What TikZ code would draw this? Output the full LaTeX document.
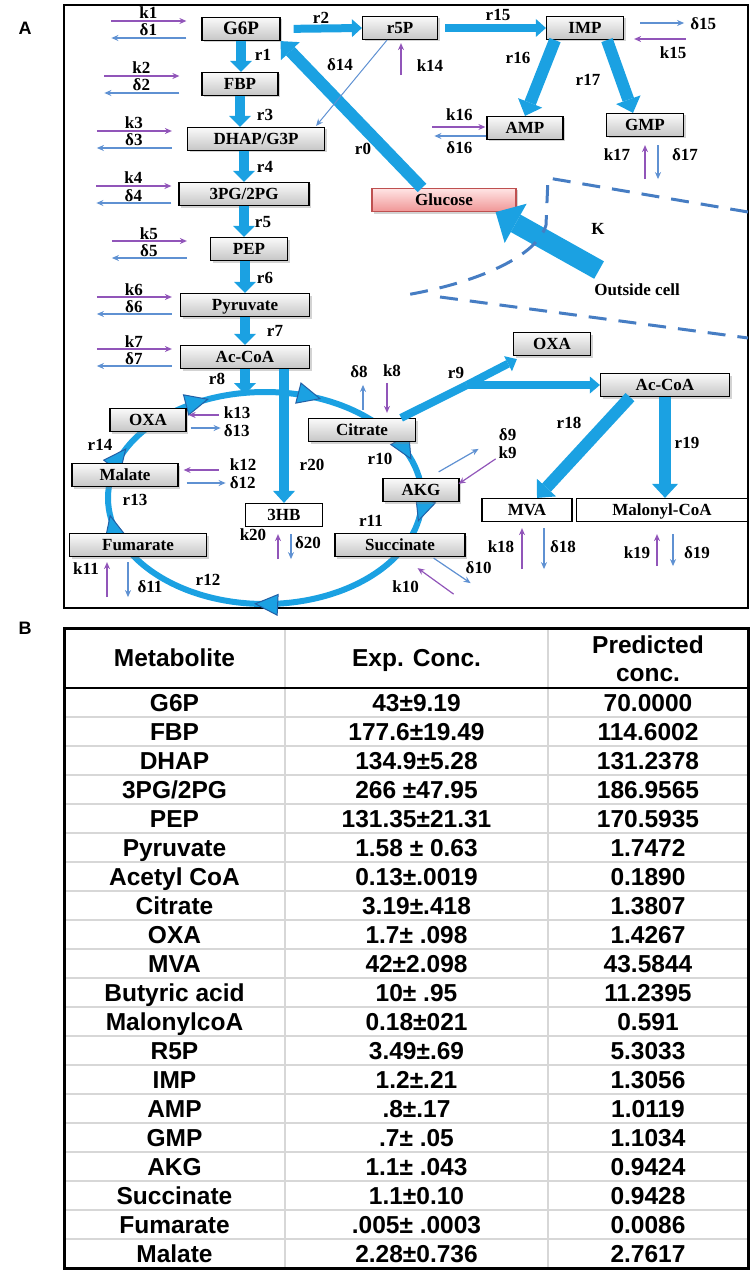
\documentclass[tikz,border=0pt]{standalone}
\usepackage{fontspec}
\setmainfont{Liberation Serif}
\newfontfamily\tabfont{Liberation Sans}
\usepackage{tikz}
\usetikzlibrary{arrows.meta,calc,shadows,decorations.markings}

\definecolor{flux}{RGB}{27,161,226}
\definecolor{ringedge}{RGB}{35,95,165}
\definecolor{kcol}{RGB}{145,85,185}
\definecolor{dcol}{RGB}{95,145,210}
\definecolor{membcol}{RGB}{70,125,195}
\definecolor{glctop}{RGB}{255,228,228}
\definecolor{glcbot}{RGB}{240,150,150}
\definecolor{glcedge}{RGB}{190,80,80}
\definecolor{gridcol}{RGB}{215,215,215}

\tikzset{
	met/.style={draw,line width=1.2pt,top color=gray!4,bottom color=gray!45,
		minimum height=23pt,inner sep=0pt,text height=11.5pt,text depth=0pt,
		font=\bfseries\fontsize{17}{17}\selectfont,
		drop shadow={shadow xshift=2pt,shadow yshift=-2pt,opacity=.35}},
	metw/.style={draw,line width=1.2pt,fill=white,minimum height=23pt,inner sep=0pt,
		text height=11.5pt,text depth=0pt,font=\bfseries\fontsize{17}{17}\selectfont},
	glc/.style={met,draw=glcedge,top color=glctop,bottom color=glcbot},
	lab/.style={inner sep=0pt,text height=11.5pt,text depth=0pt,
		font=\bfseries\fontsize{17}{17}\selectfont},
	fat/.style n args={3}{draw=flux,line width=#1,-{Triangle[length=#2,width=#3,line width=0pt]}},
	trunk/.style={draw=flux,line width=#1},
	kin/.style={draw=kcol,line width=1.2pt,-{Stealth[length=7pt,width=6pt]}},
	dout/.style={draw=dcol,line width=1.2pt,-{Stealth[length=7pt,width=6pt]}},
	tcaring/.style={draw=flux,line width=6pt},
	ringtip/.tip={Triangle[length=24pt,width=22pt,line width=1pt,color=ringedge,fill=flux]},
	membrane/.style={draw=membcol,line width=3pt,dash pattern=on 18pt off 12pt},
	tcell/.style={inner sep=0pt,text height=17.5pt,text depth=0pt,
		font=\tabfont\bfseries\fontsize{24.5}{28}\selectfont},
	rowline/.style={draw=gridcol,line width=1.2pt}
}

\begin{document}
\begin{tikzpicture}[x=1pt,y=-1pt]
	\useasboundingbox (0,0) rectangle (755,1276);
	\node[font=\tabfont\bfseries\fontsize{18}{18}\selectfont] (pA) at (25,28) {A};
	\node[font=\tabfont\bfseries\fontsize{18}{18}\selectfont] (pB) at (25,628) {B};
	\draw[line width=1.5pt] (64,5) rectangle (748,608);
	
	\coordinate (tca) at (265,498);
	\draw[tcaring,decoration={markings,
		mark=at position .029 with {\arrow{ringtip}},
		mark=at position .263 with {\arrow{ringtip}},
		mark=at position .480 with {\arrow{ringtip}},
		mark=at position .565 with {\arrow{ringtip}},
		mark=at position .682 with {\arrow{ringtip}},
		mark=at position .818 with {\arrow{ringtip}},
		mark=at position .952 with {\arrow{ringtip}}},postaction={decorate}]
		(tca) ellipse [x radius=157,y radius=106];
	
	\node[met,minimum width=78pt,font=\bfseries\fontsize{19}{19}\selectfont] (g6p) at (241,29) {G6P};
	\node[met,minimum width=76pt] (fbp) at (240,84) {FBP};
	\node[met,minimum width=137pt] (dhap) at (256,139) {DHAP/G3P};
	\node[met,minimum width=130pt] (pg) at (244,194) {3PG/2PG};
	\node[met,minimum width=77pt] (pep) at (249,249) {PEP};
	\node[met,minimum width=129pt] (pyr) at (245,305) {Pyruvate};
	\node[met,minimum width=129pt] (acoa) at (245,357) {Ac-CoA};
	\node[met,minimum width=76pt] (oxa) at (148,420) {OXA};
	\node[met,minimum width=106pt] (mal) at (125,475) {Malate};
	\node[met,minimum width=137pt] (fum) at (138,545) {Fumarate};
	\node[metw,minimum width=77pt] (hb) at (284,515) {3HB};
	\node[met,minimum width=107pt] (cit) at (362,430) {Citrate};
	\node[met,minimum width=76pt] (akg) at (421,490) {AKG};
	\node[met,minimum width=130pt] (suc) at (400,545) {Succinate};
	\node[met,minimum width=75pt] (r5p) at (400,28) {r5P};
	\node[met,minimum width=77pt] (imp) at (585,28) {IMP};
	\node[met,minimum width=76pt] (amp) at (525,128) {AMP};
	\node[met,minimum width=77pt] (gmp) at (645,125) {GMP};
	\node[glc,minimum width=144pt] (glu) at (444,200) {Glucose};
	\node[met,minimum width=77pt] (oxb) at (552,344) {OXA};
	\node[met,minimum width=129pt] (acob) at (665,385) {Ac-CoA};
	\node[metw,minimum width=90pt] (mva) at (527,510) {MVA};
	\node[metw,minimum width=171pt] (malo) at (662,510) {Malonyl-CoA};
	\node[lab] (out) at (637,290) {Outside cell};
	
	\draw[fat={10pt}{11pt}{22pt}] (g6p.south) -- (g6p.south |- fbp.north);
	\draw[fat={10pt}{11pt}{22pt}] (fbp.south) -- (fbp.south |- dhap.north);
	\draw[fat={10pt}{11pt}{22pt}] (pg.north |- dhap.south) -- (pg.north);
	\draw[fat={10pt}{11pt}{22pt}] (pg.south) -- (pg.south |- pep.north);
	\draw[fat={10pt}{11pt}{22pt}] (pyr.north |- pep.south) -- (pyr.north);
	\draw[fat={10pt}{11pt}{22pt}] (pyr.south) -- (pyr.south |- acoa.north);
	\draw[fat={10pt}{11pt}{22pt}] (acoa.south) -- ++(0,25);
	\draw[fat={10pt}{12pt}{22pt}] (hb.north |- acoa.south) -- (hb.north);
	\draw[fat={8pt}{10pt}{18pt},shorten <=13pt] (g6p.east) -- (r5p.west);
	\draw[fat={8pt}{10pt}{18pt},shorten <=7pt] (r5p.east) -- (imp.west);
	\draw[fat={12pt}{14pt}{26pt}] ([xshift=-30pt]imp.south) -- (amp.north);
	\draw[fat={12pt}{14pt}{26pt}] ([xshift=22pt]imp.south) -- ([xshift=-12pt]gmp.north);
	\draw[fat={12pt}{14pt}{26pt}] ([xshift=-22pt]glu.north) -- (g6p.south east);
	\draw[fat={20pt}{23pt}{45pt}] ([shift={(5,-14)}]out.north west) -- ([xshift=-21pt]glu.south east);
	\coordinate (br) at (467,385);
	\draw[trunk=8pt] ([xshift=-15pt]cit.north east) -- (br);
	\draw[fat={8pt}{10pt}{17pt}] (br) -- ([shift={(4,3)}]oxb.south west);
	\draw[fat={8pt}{10pt}{17pt}] (br) -- (br -| acob.west);
	\draw[fat={12pt}{14pt}{26pt}] ([xshift=-35pt]acob.south) -- ([xshift=10pt]mva.north);
	\draw[fat={12pt}{14pt}{26pt}] (acob.south) -- (acob.south |- malo.north);
	
	\foreach \n/\i/\g in {g6p/1/15,fbp/2/22,dhap/3/15,pg/4/7,pep/5/23,pyr/6/8,acoa/7/8}{
		\draw[kin] ([shift={(-\g-75,-8)}]\n.west) -- ([shift={(-\g,-8)}]\n.west);
		\draw[dout] ([shift={(-\g,9)}]\n.west) -- ([shift={(-\g-75,9)}]\n.west);
		\node[lab,anchor=base] (k\i) at ([shift={(-\g-38,-10)}]\n.west) {k\i};
		\node[lab,anchor=base] (d\i) at ([shift={(-\g-38,7)}]\n.west) {δ\i};
	}
	\foreach \n/\i/\px/\bx/\ya/\yb/\kx/\ky/\dx/\dy in {fum/11/-31/-10/5/40/-52/12/12/30,
		hb/20/-6/7/7/32/-31/8/24/16,mva/18/-5/17/6/47/-26/25/36/25,
		malo/19/-5/11/12/44/-25/31/35/31,gmp/17/0/13/8/42/-28/18/40/18}{
		\draw[kin] ([shift={(\px,\yb)}]\n.south) -- ([shift={(\px,\ya)}]\n.south);
		\draw[dout] ([shift={(\bx,\ya)}]\n.south) -- ([shift={(\bx,\yb)}]\n.south);
		\node[lab] (k\i) at ([shift={(\kx,\ky)}]\n.south) {k\i};
		\node[lab] (d\i) at ([shift={(\dx,\dy)}]\n.south) {δ\i};
	}
	
	\draw[kin] ([shift={(32,-5)}]oxa.east) -- ([shift={(2,-5)}]oxa.east);
	\draw[dout] ([shift={(4,8)}]oxa.east) -- ([shift={(34,8)}]oxa.east);
	\node[lab,anchor=west] (k13) at ([shift={(37,-7)}]oxa.east) {k13};
	\node[lab,anchor=west] (d13) at ([shift={(37,11)}]oxa.east) {δ13};
	\draw[kin] ([shift={(40,-5)}]mal.east) -- ([shift={(5,-5)}]mal.east);
	\draw[dout] ([shift={(8,8)}]mal.east) -- ([shift={(47,8)}]mal.east);
	\node[lab,anchor=west] (k12) at ([shift={(51,-10)}]mal.east) {k12};
	\node[lab,anchor=west] (d12) at ([shift={(51,8)}]mal.east) {δ12};
	\draw[dout] ([shift={(16,-5)}]imp.east) -- ([shift={(60,-5)}]imp.east);
	\draw[kin] ([shift={(62,11)}]imp.east) -- ([shift={(10,11)}]imp.east);
	\node[lab,anchor=west] (d15) at ([shift={(66,-4)}]imp.east) {δ15};
	\node[lab] (k15) at ([shift={(49,25)}]imp.east) {k15};
	\draw[kin] ([shift={(-54,-1)}]amp.west) -- ([shift={(-1,-1)}]amp.west);
	\draw[dout] ([shift={(0,8)}]amp.west) -- ([shift={(-52,8)}]amp.west);
	\node[lab] (k16) at ([shift={(-27,-13)}]amp.west) {k16};
	\node[lab] (d16) at ([shift={(-27,20)}]amp.west) {δ16};
	\draw[dout] ([shift={(1,-8)}]cit.north) -- ([shift={(1,-33)}]cit.north);
	\draw[kin] ([shift={(25,-35)}]cit.north) -- ([shift={(25,-5)}]cit.north);
	\node[lab] (d8) at ([shift={(-3,-46)}]cit.north) {δ8};
	\node[lab] (k8) at ([shift={(30,-47)}]cit.north) {k8};
	\draw[kin] ([shift={(1,35)}]r5p.south) -- ([shift={(1,3)}]r5p.south);
	\node[lab] (k14) at ([shift={(30,26)}]r5p.south) {k14};
	\draw[dout,line width=1pt] ([xshift=-13pt]r5p.south) -- ([shift={(-9,-1)}]dhap.north east);
	\node[lab] (d14) at (340,65) {δ14};
	\draw[dout] ([shift={(-21,-6)}]akg.north east) -- ([shift={(19,-29)}]akg.north east);
	\draw[kin] ([shift={(36,-19)}]akg.north east) -- ([shift={(-1,6)}]akg.north east);
	\node[lab] (d9) at ([shift={(48,-43)}]akg.north east) {δ9};
	\node[lab] (k9) at ([shift={(48,-25)}]akg.north east) {k9};
	\draw[dout] ([shift={(-32,1)}]suc.south east) -- ([shift={(5,26)}]suc.south east);
	\draw[kin] ([shift={(-12,37)}]suc.south east) -- ([shift={(-48,11)}]suc.south east);
	\node[lab] (d10) at ([shift={(13,11)}]suc.south east) {δ10};
	\node[lab] (k10) at ([shift={(-60,30)}]suc.south east) {k10};
	
	\foreach \t/\x/\y in {r0/363/149,r1/263/55,r2/321/18,r3/265/115,r4/265/167,r5/263/222,
		r6/265/278,r7/275/331,r8/217/379,r9/456/373,r10/380/459,r11/371/521,r12/208/580,
		r13/135/500,r14/100/445,r15/498/15,r16/518/58,r17/588/80,r18/569/423,r19/687/443,r20/312/465}
		\node[lab] (\t) at (\x,\y) {\t};
	\node[lab] (K) at (598,229) {K};
	
	\draw[membrane] (748,212) -- (548,178) -- (546,225) .. controls (538,255) and (480,283) .. (400,296);
	\draw[membrane] (440,297) -- (748,338);
	
	\foreach \r in {1,...,19}
		\draw[rowline] (64,{688+29*\r}) -- (748,{688+29*\r});
	\draw[rowline] (285,628) -- (285,1268);
	\draw[rowline] (548,628) -- (548,1268);
	\draw[line width=1.5pt] (64,688) -- (748,688);
	\draw[line width=3pt] (64,628) rectangle (748,1268);
	\node[tcell] (hm) at (174.5,658) {Metabolite};
	\node[tcell] (he) at (416.5,658) {Exp. Conc.};
	\node[tcell] (hp) at (648,645) {Predicted};
	\node[tcell] (hc) at (648,673) {conc.};
	\foreach \m/\e/\p [count=\r] in {G6P/43±9.19/70.0000,FBP/177.6±19.49/114.6002,
		DHAP/134.9±5.28/131.2378,{3PG/2PG}/266 ±47.95/186.9565,PEP/131.35±21.31/170.5935,
		Pyruvate/1.58 ± 0.63/1.7472,Acetyl CoA/0.13±.0019/0.1890,Citrate/3.19±.418/1.3807,
		OXA/1.7± .098/1.4267,MVA/42±2.098/43.5844,Butyric acid/10± .95/11.2395,
		MalonylcoA/0.18±021/0.591,R5P/3.49±.69/5.3033,IMP/1.2±.21/1.3056,
		AMP/.8±.17/1.0119,GMP/.7± .05/1.1034,AKG/1.1± .043/0.9424,
		Succinate/1.1±0.10/0.9428,Fumarate/.005± .0003/0.0086,Malate/2.28±0.736/2.7617}{
		\node[tcell] (m\r) at (174.5,{673.5+29*\r}) {\m};
		\node[tcell] (e\r) at (416.5,{673.5+29*\r}) {\e};
		\node[tcell] (p\r) at (648,{673.5+29*\r}) {\p};
	}
\end{tikzpicture}
\end{document}
